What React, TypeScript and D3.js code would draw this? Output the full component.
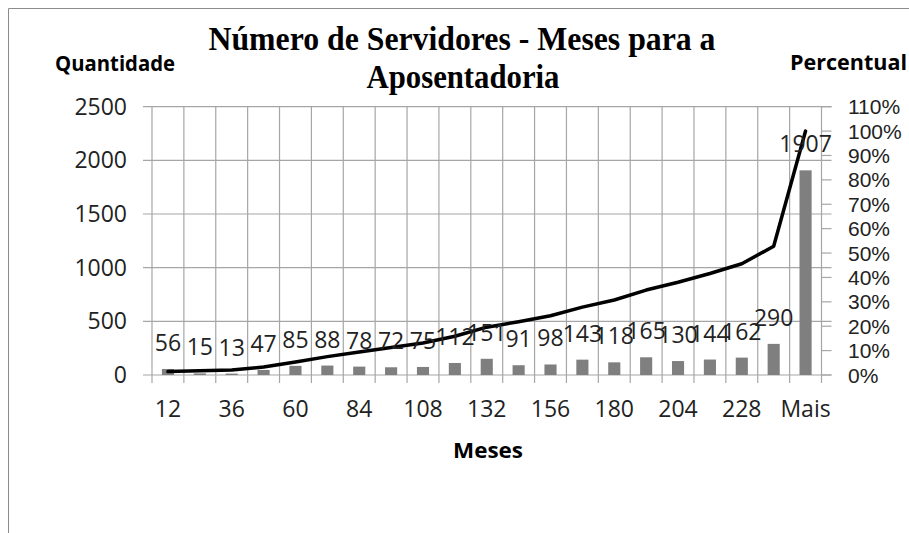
import React from "react";
import * as d3 from "d3";

const categories = ["12", "24", "36", "48", "60", "72", "84", "96", "108", "120", "132", "144", "156", "168", "180", "192", "204", "216", "228", "240", "Mais"];
const counts = [56, 15, 13, 47, 85, 88, 78, 72, 75, 112, 151, 91, 98, 143, 118, 165, 130, 144, 162, 290, 1907];
const leftTicks = [0, 500, 1000, 1500, 2000, 2500];
const rightTicks = [0, 0.1, 0.2, 0.3, 0.4, 0.5, 0.6, 0.7, 0.8, 0.9, 1.0, 1.1];
const shownCategoryLabels = ["12", "36", "60", "84", "108", "132", "156", "180", "204", "228", "Mais"];
const titleLines = ["Número de Servidores - Meses para a", "Aposentadoria"];

const W = 909;
const H = 533;
const plot = { left: 152, right: 821.5, top: 106.7, bottom: 375 };
const FONT = "'Open Sans', 'Liberation Sans', sans-serif";
const GRID = "#a6a6a6";

export default function App() {
  const total = d3.sum(counts);
  const cumPct = Array.from(d3.cumsum(counts), (c) => c / total);

  const x = d3.scaleBand<string>().domain(categories).range([plot.left, plot.right]).padding(0);
  const yL = d3.scaleLinear().domain([0, 2500]).range([plot.bottom, plot.top]);
  const yR = d3.scaleLinear().domain([0, 1.1]).range([plot.bottom, plot.top]);
  const step = x.step();
  const barW = step * 0.38;
  const cx = (c: string) => (x(c) as number) + step / 2;

  const line = d3
    .line<number>()
    .x((_, i) => cx(categories[i]))
    .y((d) => yR(d))
    .curve(d3.curveLinear);

  const boundaries = categories.map((c) => x(c) as number).concat([plot.right]);

  return (
    <svg width={W} height={H} style={{ position: "absolute", left: 0, top: 0, background: "#fff" }}>
      {/* outer border */}
      <line x1={8.5} y1={8.5} x2={W} y2={8.5} stroke="#8c8c8c" strokeWidth={1} />
      <line x1={8.5} y1={8.5} x2={8.5} y2={H} stroke="#8c8c8c" strokeWidth={1} />

      {/* title */}
      <text x={462} y={50} textAnchor="middle" fontFamily="'Liberation Serif', 'Times New Roman', serif" fontWeight="bold" fontSize={34} textLength={507} lengthAdjust="spacingAndGlyphs" fill="#000">
        {titleLines[0]}
      </text>
      <text x={463} y={88} textAnchor="middle" fontFamily="'Liberation Serif', 'Times New Roman', serif" fontWeight="bold" fontSize={34} textLength={193} lengthAdjust="spacingAndGlyphs" fill="#000">
        {titleLines[1]}
      </text>

      {/* axis titles */}
      <text x={55} y={71} fontFamily={FONT} fontWeight="bold" fontSize={21} textLength={120} lengthAdjust="spacingAndGlyphs" fill="#000">Quantidade</text>
      <text x={790} y={70} fontFamily={FONT} fontWeight="bold" fontSize={21} textLength={117} lengthAdjust="spacingAndGlyphs" fill="#000">Percentual</text>
      <text x={488} y={458} textAnchor="middle" fontFamily={FONT} fontWeight="bold" fontSize={21} textLength={70} lengthAdjust="spacingAndGlyphs" fill="#000">Meses</text>

      {/* horizontal gridlines with outside ticks on both sides */}
      {leftTicks.map((t) => (
        <line key={"h" + t} x1={plot.left - 9} x2={plot.right + 10} y1={yL(t)} y2={yL(t)} stroke={GRID} strokeWidth={1.2} />
      ))}
      {/* right axis ticks */}
      {rightTicks.map((t) => (
        <line key={"rt" + t} x1={plot.right} x2={plot.right + 10} y1={yR(t)} y2={yR(t)} stroke={GRID} strokeWidth={1.2} />
      ))}
      {/* vertical gridlines + bottom ticks */}
      {boundaries.map((b, i) => (
        <line key={"v" + i} x1={b} x2={b} y1={plot.top} y2={plot.bottom + 8} stroke={GRID} strokeWidth={1.2} />
      ))}

      {/* bars */}
      {counts.map((v, i) => (
        <rect key={"b" + i} x={cx(categories[i]) - barW / 2} y={yL(v)} width={barW} height={plot.bottom - yL(v)} fill="#7f7f7f" />
      ))}

      {/* cumulative line */}
      <path d={line(cumPct) || ""} fill="none" stroke="#000" strokeWidth={3.5} strokeLinejoin="round" strokeLinecap="round" />

      {/* data labels */}
      {counts.map((v, i) => (
        <text key={"l" + i} x={cx(categories[i])} y={yL(v) - 18} textAnchor="middle" fontFamily={FONT} fontSize={23} fill="#222">
          {v}
        </text>
      ))}

      {/* left tick labels */}
      {leftTicks.map((t) => (
        <text key={"lt" + t} x={127} y={yL(t)} dy="0.35em" textAnchor="end" fontFamily={FONT} fontSize={23} fill="#222">
          {t}
        </text>
      ))}
      {/* right tick labels */}
      {rightTicks.map((t) => (
        <text key={"rl" + t} x={848} y={yR(t)} dy="0.36em" textAnchor="start" fontFamily="'Liberation Sans', Arial, sans-serif" fontSize={21} fill="#222">
          {d3.format(".0%")(t)}
        </text>
      ))}
      {/* category labels */}
      {shownCategoryLabels.map((c) => (
        <text key={"c" + c} x={cx(c)} y={417} textAnchor="middle" fontFamily={FONT} fontSize={23} fill="#222">
          {c}
        </text>
      ))}
    </svg>
  );
}
